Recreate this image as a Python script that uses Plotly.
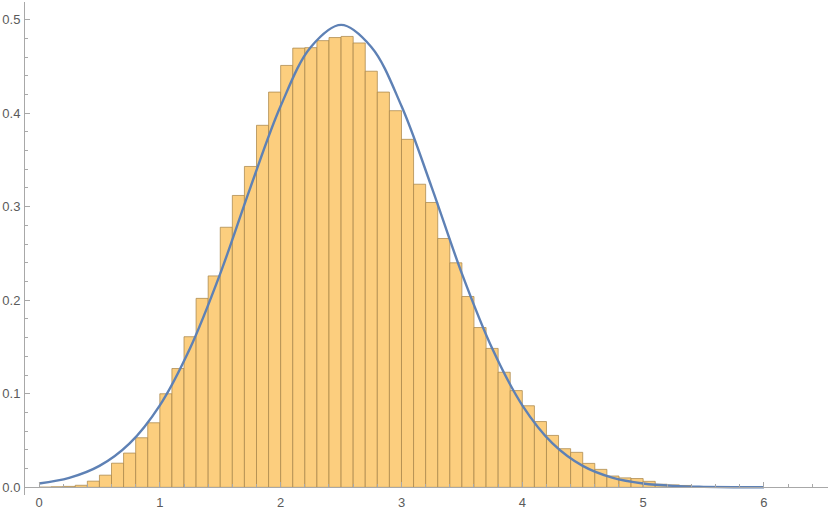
import plotly.graph_objects as go

# Histogram: left edges of bins (width 0.1) and bar heights (density)
bin_left = [round(i * 0.1, 1) for i in range(55)]
bar_heights = [
    0.0002, 0.0006, 0.0010, 0.0022, 0.0066, 0.0130, 0.0258, 0.0366, 0.0530, 0.0690,
    0.1000, 0.1270, 0.1610, 0.2020, 0.2260, 0.2780, 0.3120, 0.3430, 0.3870, 0.4225,
    0.4510, 0.4695, 0.4700, 0.4775, 0.4808, 0.4820, 0.4750, 0.4448, 0.4225, 0.4026,
    0.3720, 0.3240, 0.3045, 0.2660, 0.2400, 0.2040, 0.1708, 0.1485, 0.1230, 0.1034,
    0.0872, 0.0703, 0.0555, 0.0413, 0.0374, 0.0256, 0.0192, 0.0121, 0.0101, 0.0094,
    0.0064, 0.0033, 0.0026, 0.0020, 0.0006,
]

# Fitted density curve
curve_x = [0.0, 0.25, 0.5, 0.75, 1.0, 1.25, 1.5, 1.75, 2.0, 2.25, 2.5, 2.75, 3.0,
           3.25, 3.5, 3.75, 4.0, 4.25, 4.5, 4.75, 5.0, 5.25, 5.5, 5.75, 6.0]
curve_y = [0.0041, 0.0101, 0.0229, 0.0470, 0.0877, 0.1487, 0.2285, 0.3207, 0.4076,
           0.4707, 0.4943, 0.4707, 0.4076, 0.3207, 0.2285, 0.1487, 0.0877, 0.0470,
           0.0229, 0.0101, 0.0041, 0.0015, 0.0005, 0.0001, 0.00003]

x_ticks = [0, 1, 2, 3, 4, 5, 6]
y_ticks = [0.0, 0.1, 0.2, 0.3, 0.4, 0.5]

X_RANGE = [-0.116, 6.53]
Y_RANGE = [-0.0082, 0.5188]

fig = go.Figure()
fig.add_trace(go.Bar(
    x=bin_left, y=bar_heights, width=0.1, offset=0,
    marker=dict(color="#FCCE7E", line=dict(color="rgba(170,135,75,0.75)", width=1)),
    hoverinfo="skip",
))
fig.add_trace(go.Scatter(
    x=curve_x, y=curve_y, mode="lines",
    line=dict(color="#5E81B5", width=2.4, shape="spline", smoothing=1.0),
    hoverinfo="skip",
))

axis_color = "#A8A8A8"
font_color = "#5A5A5A"
fig.update_layout(
    width=830, height=513,
    margin=dict(l=25, r=2, t=2, b=18, autoexpand=False),
    paper_bgcolor="white", plot_bgcolor="white",
    showlegend=False,
    font=dict(family="Liberation Sans, Arial, sans-serif", size=13, color=font_color),
    xaxis=dict(
        range=X_RANGE, showgrid=False, zeroline=False, automargin=False,
        showline=True, linecolor=axis_color, linewidth=1,
        anchor="free", position=(0 - Y_RANGE[0]) / (Y_RANGE[1] - Y_RANGE[0]),
        tickmode="array", tickvals=x_ticks, ticktext=[str(t) for t in x_ticks],
        ticks="inside", ticklen=5, tickcolor=axis_color, tickwidth=1,
        minor=dict(dtick=0.2, tick0=0, ticks="inside", ticklen=3, tickcolor=axis_color),
        ticklabelstandoff=3,
    ),
    yaxis=dict(
        range=Y_RANGE, showgrid=False, zeroline=False, automargin=False,
        showline=True, linecolor=axis_color, linewidth=1,
        tickmode="array", tickvals=y_ticks, ticktext=[f"{t:.1f}" for t in y_ticks],
        ticks="inside", ticklen=5, tickcolor=axis_color, tickwidth=1,
        minor=dict(dtick=0.02, tick0=0, ticks="inside", ticklen=3, tickcolor=axis_color),
        ticklabelstandoff=1,
    ),
)

fig.write_html(
    "out.html",
    config={"displayModeBar": False},
    post_script="document.body.style.margin='0';document.body.style.overflow='hidden';",
)
